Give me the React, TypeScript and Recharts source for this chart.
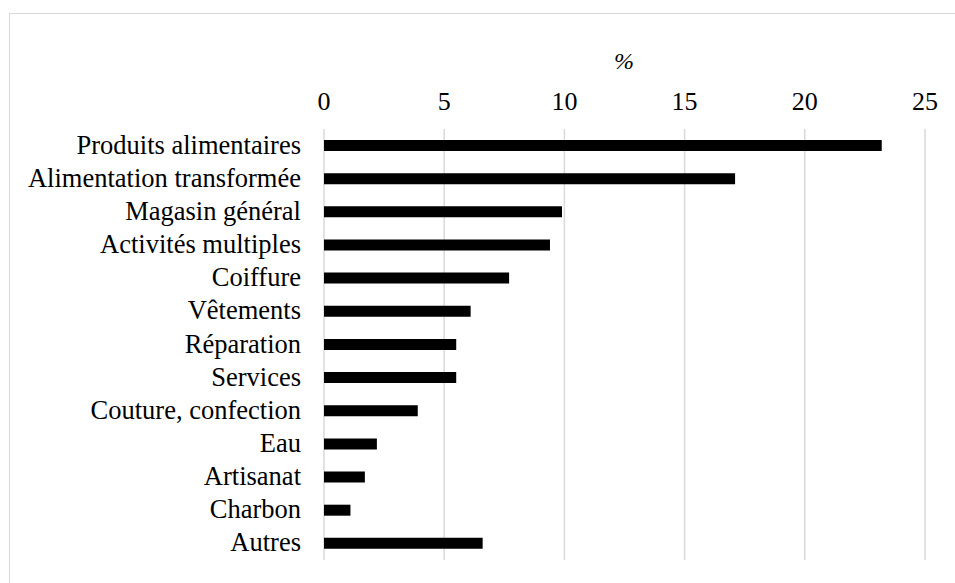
import { BarChart, Bar, XAxis, YAxis, CartesianGrid } from 'recharts'

const categories = [
  'Produits alimentaires',
  'Alimentation transformée',
  'Magasin général',
  'Activités multiples',
  'Coiffure',
  'Vêtements',
  'Réparation',
  'Services',
  'Couture, confection',
  'Eau',
  'Artisanat',
  'Charbon',
  'Autres',
]
const shares = [23.2, 17.1, 9.9, 9.4, 7.7, 6.1, 5.5, 5.5, 3.9, 2.2, 1.7, 1.1, 6.6]
const xTicks = [0, 5, 10, 15, 20, 25]

const data = categories.map((name, i) => ({ name, value: shares[i] }))

const serif = 'Liberation Serif'

// top axis ticks; the "%" unit title rides along with the last tick
function XTick(props: any) {
  const { x, y, payload } = props
  return (
    <g>
      <text x={x} y={y} textAnchor="middle" fontFamily={serif} fontSize={26} fill="#000" style={{ fontFamily: serif }}>
        {String(payload.value)}
      </text>
      {payload.value === 25 && (
        <text x={x - 301} y={y - 41} textAnchor="middle" fontFamily={serif} fontSize={24} fontStyle="italic" fill="#000" style={{ fontFamily: serif }}>
          %
        </text>
      )}
    </g>
  )
}

function YTick(props: any) {
  const { x, y, payload } = props
  return (
    <text x={x} y={y} dy={8} textAnchor="end" fontFamily={serif} fontSize={26.5} fill="#000" style={{ fontFamily: serif }}>
      {payload.value}
    </text>
  )
}

export default function App() {
  return (
    <div style={{ position: 'absolute', left: 0, top: 0, width: 955, height: 583, background: '#fff', overflow: 'hidden' }}>
      <div style={{ position: 'absolute', left: 9, top: 13, width: 1000, height: 700, border: '1px solid #d9d9d9' }} />
      <BarChart
        width={955}
        height={583}
        data={data}
        layout="vertical"
        margin={{ top: 45, right: 30, bottom: 23, left: 0 }}
        style={{ position: 'absolute', left: 0, top: 0 }}
      >
        <CartesianGrid horizontal={false} stroke="#d9d9d9" strokeWidth={1.5} />
        <XAxis
          type="number"
          orientation="top"
          domain={[0, 25]}
          ticks={xTicks}
          height={84}
          axisLine={false}
          tickLine={false}
          tickMargin={13}
          tick={XTick}
        />
        <YAxis
          type="category"
          dataKey="name"
          width={324}
          axisLine={false}
          tickLine={false}
          tickMargin={17}
          interval={0}
          tick={YTick}
        />
        <Bar dataKey="value" fill="#000" barSize={11} isAnimationActive={false} />
      </BarChart>
    </div>
  )
}
